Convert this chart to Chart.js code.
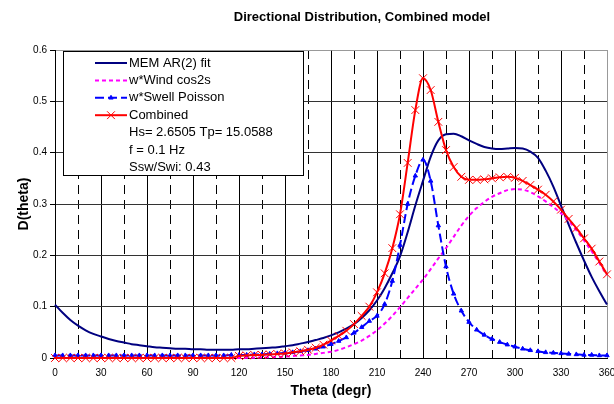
<!DOCTYPE html>
<html>
<head>
<meta charset="utf-8">
<script src="https://cdn.jsdelivr.net/npm/chart.js@4.4.1/dist/chart.umd.min.js"></script>
<style>
    html, body { margin: 0; padding: 0; background: #fff; }
</style>
</head>
<body>
<canvas id="chart" width="614" height="404"></canvas>
<script>
// Angles (degrees), one value every 5 degrees
const thetas = [
    0, 5, 10, 15, 20, 25, 30, 35, 40, 45, 50, 55, 60, 65, 70, 75, 80, 85, 90, 95,
    100, 105, 110, 115, 120, 125, 130, 135, 140, 145, 150, 155, 160, 165, 170, 175, 180, 185, 190, 195,
    200, 205, 210, 215, 220, 225, 230, 235, 240, 245, 250, 255, 260, 265, 270, 275, 280, 285, 290, 295,
    300, 305, 310, 315, 320, 325, 330, 335, 340, 345, 350, 355, 360
]

const memFit = [
    0.104, 0.088, 0.074, 0.063, 0.054, 0.047, 0.042, 0.037, 0.033, 0.030, 0.027, 0.025, 0.023, 0.021, 0.020, 0.019, 0.018, 0.018, 0.017, 0.017,
    0.016, 0.016, 0.016, 0.016, 0.017, 0.017, 0.018, 0.019, 0.020, 0.021, 0.023, 0.025, 0.028, 0.031, 0.035, 0.039, 0.044, 0.050, 0.057, 0.066,
    0.078, 0.093, 0.112, 0.136, 0.165, 0.198, 0.245, 0.297, 0.345, 0.392, 0.424, 0.436, 0.437, 0.432, 0.424, 0.417, 0.411, 0.408, 0.407, 0.408,
    0.409, 0.408, 0.402, 0.390, 0.365, 0.334, 0.297, 0.260, 0.224, 0.190, 0.158, 0.130, 0.104
]

const windCos2s = [
    0, 0, 0, 0, 0, 0, 0, 0, 0, 0, 0, 0, 0, 0, 0, 0, 0, 0, 0, 0,
    0, 0, 0, 0, 0, 0.0003, 0.0006, 0.001, 0.0015, 0.002, 0.003, 0.004, 0.005, 0.006, 0.008, 0.010, 0.012, 0.016, 0.021, 0.027,
    0.034, 0.043, 0.054, 0.067, 0.082, 0.099, 0.117, 0.135, 0.153, 0.173, 0.194, 0.214, 0.236, 0.258, 0.277, 0.292, 0.304, 0.314, 0.321, 0.327,
    0.329, 0.328, 0.323, 0.315, 0.305, 0.294, 0.282, 0.267, 0.249, 0.229, 0.208, 0.185, 0.162
]

const swellPoisson = [
    0.005, 0.005, 0.005, 0.005, 0.005, 0.005, 0.005, 0.005, 0.005, 0.005, 0.005, 0.005, 0.005, 0.005, 0.005, 0.005, 0.005, 0.005, 0.005, 0.005,
    0.005, 0.005, 0.005, 0.006, 0.006, 0.006, 0.007, 0.007, 0.008, 0.009, 0.010, 0.011, 0.013, 0.015, 0.018, 0.022, 0.027, 0.033, 0.040, 0.049,
    0.060, 0.072, 0.082, 0.105, 0.150, 0.220, 0.300, 0.355, 0.386, 0.345, 0.258, 0.178, 0.125, 0.092, 0.070, 0.055, 0.045, 0.037, 0.031, 0.026,
    0.022, 0.018, 0.015, 0.013, 0.011, 0.010, 0.009, 0.008, 0.007, 0.006, 0.006, 0.005, 0.005
]

const combined = [
    0, 0, 0, 0, 0, 0, 0, 0, 0, 0, 0, 0, 0, 0, 0, 0, 0, 0, 0, 0,
    0, 0, 0, 0, 0.004, 0.005, 0.006, 0.006, 0.007, 0.008, 0.009, 0.011, 0.013, 0.016, 0.020, 0.026, 0.034, 0.043, 0.053, 0.066,
    0.082, 0.100, 0.128, 0.165, 0.214, 0.280, 0.380, 0.483, 0.545, 0.522, 0.460, 0.405, 0.372, 0.353, 0.347, 0.347, 0.348, 0.350, 0.352, 0.353,
    0.351, 0.345, 0.337, 0.328, 0.318, 0.305, 0.289, 0.271, 0.253, 0.233, 0.213, 0.188, 0.163
]

const seriesNames = ['MEM AR(2) fit', 'w*Wind cos2s', 'w*Swell Poisson', 'Combined']
const infoLines = ['Hs= 2.6505 Tp= 15.0588', 'f = 0.1 Hz', 'Ssw/Swi: 0.43']
const chartTitle = 'Directional Distribution, Combined model'

const FONT = '"Liberation Sans", Arial, sans-serif'

const toPoints = (values) => thetas.map((t, i) => ({ x: t, y: values[i] }))


// Title drawn at the same spot as in the original picture
const titlePlugin = {
    id: 'titleText',
    afterDraw(chart) {
        const ctx = chart.ctx
        ctx.save()
        ctx.font = 'bold 13px ' + FONT
        ctx.fillStyle = '#000'
        ctx.textAlign = 'center'
        ctx.textBaseline = 'middle'
        ctx.fillText(chartTitle, 362, 17)
        ctx.restore()
    }
}


// Boxed legend inside the plot, with the extra info lines under the series
const legendBox = {
    id: 'legendBox',
    afterDraw(chart) {
        const ctx = chart.ctx
        const box = { x: 63, y: 51, w: 240, h: 124 }
        const lineX1 = 95, lineX2 = 127, textX = 129
        const step = 17.4
        let y = 63

        ctx.save()
        ctx.fillStyle = '#fff'
        ctx.fillRect(box.x, box.y, box.w, box.h)
        ctx.strokeStyle = '#000'
        ctx.lineWidth = 1
        ctx.strokeRect(box.x + 0.5, box.y + 0.5, box.w, box.h)

        ctx.font = '13px ' + FONT
        ctx.textBaseline = 'middle'
        ctx.textAlign = 'left'

        chart.data.datasets.forEach(ds => {
            ctx.strokeStyle = ds.borderColor
            ctx.lineWidth = ds.borderWidth
            ctx.setLineDash(ds.borderDash || [])
            ctx.beginPath()
            ctx.moveTo(lineX1, y)
            ctx.lineTo(lineX2, y)
            ctx.stroke()
            ctx.setLineDash([])

            if (ds.pointRadius > 0) {
                ctx.fillStyle = ds.pointBackgroundColor
                ctx.strokeStyle = ds.pointBorderColor
                ctx.lineWidth = ds.pointBorderWidth
                Chart.helpers.drawPoint(ctx, {
                    pointStyle: ds.pointStyle,
                    radius: ds.pointRadius,
                    borderWidth: ds.pointBorderWidth,
                    rotation: 0
                }, (lineX1 + lineX2) / 2, y)
            }

            ctx.fillStyle = '#000'
            ctx.fillText(ds.label, textX, y)
            y += step
        })

        infoLines.forEach(line => {
            ctx.fillText(line, textX, y)
            y += step
        })
        ctx.restore()
    }
}


const ctxChart = document.getElementById('chart')

new Chart(ctxChart, {
    type: 'line',
    data: {
        datasets: [
            {
                label: seriesNames[0],
                data: toPoints(memFit),
                borderColor: '#000080',
                borderWidth: 2,
                pointRadius: 0,
                order: 4
            },
            {
                label: seriesNames[1],
                data: toPoints(windCos2s),
                borderColor: '#FF00FF',
                borderWidth: 2,
                borderDash: [4, 3],
                pointRadius: 0,
                order: 3
            },
            {
                label: seriesNames[2],
                data: toPoints(swellPoisson),
                borderColor: '#0000FF',
                borderWidth: 2,
                borderDash: [9, 4],
                pointStyle: 'triangle',
                pointRadius: 2.5,
                pointBackgroundColor: '#0000FF',
                pointBorderColor: '#0000FF',
                pointBorderWidth: 1,
                order: 2
            },
            {
                label: seriesNames[3],
                data: toPoints(combined),
                borderColor: '#FF0000',
                borderWidth: 2,
                pointStyle: 'crossRot',
                pointRadius: 5.5,
                pointBackgroundColor: '#FF0000',
                pointBorderColor: '#FF0000',
                pointBorderWidth: 1,
                order: 1
            }
        ]
    },
    options: {
        responsive: false,
        animation: false,
        clip: false,
        cubicInterpolationMode: 'monotone',
        layout: {
            padding: { top: 50, right: 7, bottom: 0, left: 0 }
        },
        plugins: {
            legend: { display: false },
            tooltip: { enabled: false },
            title: { display: false }
        },
        scales: {
            x: {
                type: 'linear',
                min: 0,
                max: 360,
                ticks: {
                    stepSize: 15,
                    autoSkip: false,
                    maxRotation: 0,
                    padding: 9,
                    color: '#000',
                    font: { family: FONT, size: 10 },
                    callback: (v) => v % 30 === 0 ? String(v) : ''
                },
                grid: {
                    drawTicks: false,
                    lineWidth: 1,
                    color: (c) => c.tick && c.tick.value === 360 ? '#999' : '#000'
                },
                border: {
                    color: '#000',
                    width: 1,
                    dash: (c) => c.tick && c.tick.value % 30 !== 0 ? [9, 6] : []
                },
                title: {
                    display: true,
                    text: 'Theta (degr)',
                    color: '#000',
                    font: { family: FONT, size: 14, weight: 'bold' },
                    padding: { top: 0, bottom: 4 }
                },
                afterFit: (s) => {
                    s.height = 46
                    s.paddingLeft = 0
                    s.paddingRight = 0
                }
            },
            y: {
                min: 0,
                max: 0.6,
                ticks: {
                    stepSize: 0.1,
                    padding: 3,
                    color: '#000',
                    font: { family: FONT, size: 10 },
                    callback: (v) => v === 0 ? '0' : v.toFixed(1)
                },
                grid: {
                    lineWidth: 1,
                    tickLength: 5,
                    tickColor: '#000',
                    color: (c) => c.tick && Math.abs(c.tick.value - 0.6) < 1e-9 ? '#999' : '#333'
                },
                border: { color: '#000', width: 1 },
                title: {
                    display: true,
                    text: 'D(theta)',
                    color: '#000',
                    font: { family: FONT, size: 14, weight: 'bold' },
                    padding: { top: 16, bottom: 0 }
                },
                afterFit: (s) => {
                    s.width = 55
                }
            }
        }
    },
    plugins: [titlePlugin, legendBox]
})
</script>
</body>
</html>
